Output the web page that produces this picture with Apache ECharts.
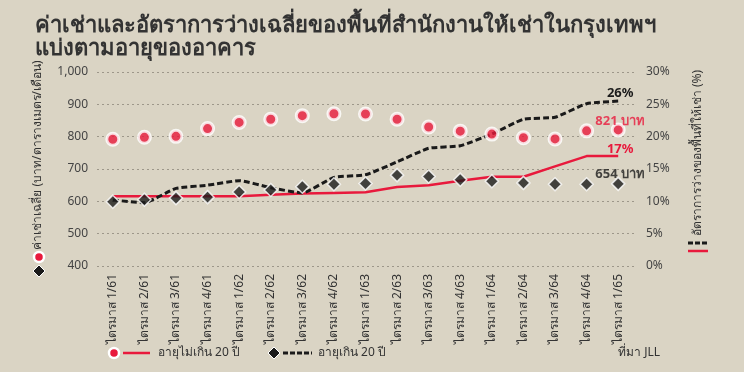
<!DOCTYPE html>
<html><head><meta charset="utf-8">
<script src="https://cdn.jsdelivr.net/npm/echarts@6/dist/echarts.min.js"></script>
<style>html,body{margin:0;padding:0;background:#dad4c4;}#c{width:744px;height:372px;}</style>
</head><body><div id="c"></div>
<script>
const categories = ['ไตรมาส 1/61','ไตรมาส 2/61','ไตรมาส 3/61','ไตรมาส 4/61','ไตรมาส 1/62','ไตรมาส 2/62','ไตรมาส 3/62','ไตรมาส 4/62','ไตรมาส 1/63','ไตรมาส 2/63','ไตรมาส 3/63','ไตรมาส 4/63','ไตรมาส 1/64','ไตรมาส 2/64','ไตรมาส 3/64','ไตรมาส 4/64','ไตรมาส 1/65'];
const rentNew = [792,798,801,825,844,854,865,871,870,854,830,817,808,797,793,818,821];
const rentOld = [599,605,610,613,629,635,645,653,655,681,677,667,662,657,653,653,654];
const vacNew = [10.8,10.8,10.8,10.8,10.8,11.0,11.2,11.3,11.4,12.2,12.5,13.2,13.8,13.8,15.4,17.0,17.0];
const vacOld = [10.2,9.8,12.0,12.5,13.2,12.1,11.3,13.7,14.1,16.1,18.2,18.6,20.4,22.7,23.0,25.1,25.5];
const leftTicks = {min:400,max:1000,interval:100};
const rightTicks = {min:0,max:30,interval:5};
const endLabels = ['821 บาท','654 บาท','17%','26%'];

const RED = '#e8193c', BLK = '#1a1a1a';
const FONT = 'Tahoma, "Noto Sans", "DejaVu Sans", sans-serif';
function withEndLabel(arr, text, color, dy){
  return arr.map((v,i)=> i===arr.length-1 ? {value:v,label:{show:true,formatter:text,position:'top',distance:2,offset:[2,dy],color:color,fontWeight:'bold',fontSize:13,fontFamily:FONT}} : v);
}
const chart = echarts.init(document.getElementById('c'));
chart.setOption({
  backgroundColor:'#dad4c4',
  animation:false,
  title:{text:'ค่าเช่าและอัตราการว่างเฉลี่ยของพื้นที่สำนักงานให้เช่าในกรุงเทพฯ\nแบ่งตามอายุของอาคาร',left:30,top:9,
    textStyle:{fontSize:22,fontWeight:'bold',color:'#333',lineHeight:23,fontFamily:FONT}},
  grid:{left:97,right:110,top:72,bottom:106},
  xAxis:{type:'category',data:categories,boundaryGap:true,
    axisLine:{show:false},axisTick:{show:false},
    axisLabel:{rotate:90,color:'#333',fontSize:12,margin:8,fontFamily:FONT,interval:0}},
  yAxis:[
    {type:'value',min:leftTicks.min,max:leftTicks.max,interval:leftTicks.interval,
     axisLine:{show:false},axisTick:{show:false},
     axisLabel:{color:'#444',fontSize:12,margin:9,fontFamily:FONT,formatter:v=>v.toLocaleString('en-US')},
     splitLine:{lineStyle:{type:[2,3],color:'#9d978a',width:1}}},
    {type:'value',min:rightTicks.min,max:rightTicks.max,interval:rightTicks.interval,
     axisLine:{show:false},axisTick:{show:false},
     axisLabel:{color:'#444',fontSize:12,margin:12,fontFamily:FONT,formatter:'{value}%'},
     splitLine:{show:false}}
  ],
  series:[
    {name:'vacNew',type:'line',yAxisIndex:1,data:withEndLabel(vacNew,endLabels[2],RED,2),symbol:'circle',symbolSize:0,showSymbol:true,
     lineStyle:{color:RED,width:2.5},itemStyle:{color:RED},z:2},
    {name:'vacOld',type:'line',yAxisIndex:1,data:withEndLabel(vacOld,endLabels[3],BLK,1),symbol:'circle',symbolSize:0,showSymbol:true,smooth:0.15,
     lineStyle:{color:BLK,width:3,type:[6,3]},itemStyle:{color:BLK},z:2},
    {name:'rentNew',type:'scatter',yAxisIndex:0,data:withEndLabel(rentNew,endLabels[0],RED,7),symbol:'circle',symbolSize:12,
     itemStyle:{color:RED,borderColor:'#fff',borderWidth:3},z:5},
    {name:'rentOld',type:'scatter',yAxisIndex:0,data:withEndLabel(rentOld,endLabels[1],BLK,6),symbol:'diamond',symbolSize:[13,13],
     itemStyle:{color:BLK,borderColor:'#fff',borderWidth:1.5},z:5}
  ],
  graphic:[
    {type:'text',x:38,y:155,rotation:Math.PI/2,style:{text:'ค่าเช่าเฉลี่ย (บาท/ตารางเมตร/เดือน)',fill:'#333',font:'12px '+FONT,align:'center',verticalAlign:'middle'}},
    {type:'circle',shape:{cx:39,cy:257,r:5},style:{fill:RED,stroke:'#fff',lineWidth:2.5}},
    {type:'polygon',shape:{points:[[39,265],[45,271],[39,277],[33,271]]},style:{fill:BLK,stroke:'#fff',lineWidth:1}},
    {type:'text',x:698,y:153,rotation:Math.PI/2,style:{text:'อัตราการว่างของพื้นที่ให้เช่า (%)',fill:'#333',font:'12px '+FONT,align:'center',verticalAlign:'middle'}},
    {type:'line',shape:{x1:688,y1:243,x2:708,y2:243},style:{stroke:BLK,lineWidth:3,lineDash:[5,2]}},
    {type:'line',shape:{x1:688,y1:251,x2:708,y2:251},style:{stroke:RED,lineWidth:2.5}},
    {type:'circle',shape:{cx:114,cy:353,r:5},style:{fill:RED,stroke:'#fff',lineWidth:2.5}},
    {type:'line',shape:{x1:123,y1:353,x2:150,y2:353},style:{stroke:RED,lineWidth:2.5}},
    {type:'text',x:158,y:353,style:{text:'อายุไม่เกิน 20 ปี',fill:'#333',font:'12px '+FONT,verticalAlign:'middle'}},
    {type:'polygon',shape:{points:[[274,347],[280,353],[274,359],[268,353]]},style:{fill:BLK,stroke:'#fff',lineWidth:1}},
    {type:'line',shape:{x1:283,y1:353,x2:312,y2:353},style:{stroke:BLK,lineWidth:3,lineDash:[5,2]}},
    {type:'text',x:318,y:353,style:{text:'อายุเกิน 20 ปี',fill:'#333',font:'12px '+FONT,verticalAlign:'middle'}},
    {type:'text',x:660,y:353,style:{text:'ที่มา JLL',fill:'#333',font:'12px '+FONT,align:'right',verticalAlign:'middle'}}
  ]
});
</script></body></html>
